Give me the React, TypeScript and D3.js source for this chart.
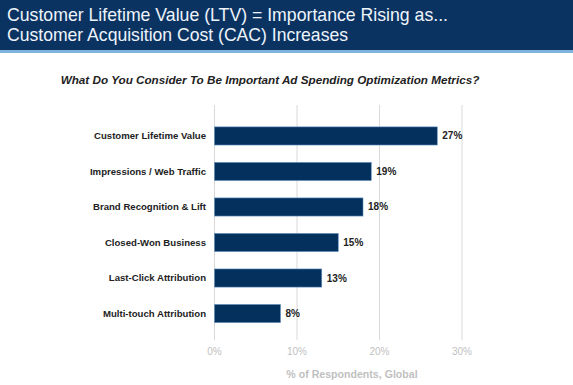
import React from 'react';
import * as d3 from 'd3';

const categories = [
  'Customer Lifetime Value',
  'Impressions / Web Traffic',
  'Brand Recognition & Lift',
  'Closed-Won Business',
  'Last-Click Attribution',
  'Multi-touch Attribution',
];
const values = [27, 19, 18, 15, 13, 8];
const ticks = [0, 10, 20, 30];

const width = 573;
const height = 385;
const font = 'Liberation Sans, Arial, sans-serif';

export default function App() {
  const x = d3.scaleLinear().domain([0, 30]).range([214.5, 462]);
  const y = d3.scaleBand().domain(categories).range([109.5, 340]).padding(0.49);

  return (
    <svg
      width={width}
      height={height}
      style={{ position: 'absolute', left: 0, top: 0, background: '#fff' }}
      fontFamily={font}
    >
      <rect x={0} y={0} width={width} height={50} fill="#0b3362" />
      <rect x={0} y={50} width={width} height={3} fill="#7fb2dc" />
      <text x={7} y={20.7} fontSize={19} fill="#eef4fb" textLength={441} lengthAdjust="spacingAndGlyphs">
        Customer Lifetime Value (LTV) = Importance Rising as...
      </text>
      <text x={7} y={41.3} fontSize={19} fill="#eef4fb" textLength={341} lengthAdjust="spacingAndGlyphs">
        Customer Acquisition Cost (CAC) Increases
      </text>

      <text
        x={270}
        y={84}
        fontSize={11.7}
        fontWeight="bold"
        fontStyle="italic"
        textAnchor="middle"
        fill="#222"
      >
        What Do You Consider To Be Important Ad Spending Optimization Metrics?
      </text>

      {/* grid */}
      {ticks.map((t) => (
        <g key={t}>
          <line x1={x(t)} x2={x(t)} y1={105} y2={340} stroke="#d9d9d9" strokeWidth={1} />
          <text x={x(t)} y={355} fontSize={10} fill="#bfbfbf" textAnchor="middle">
            {t}%
          </text>
        </g>
      ))}

      {categories.map((c, i) => {
        const yy = y(c)!;
        const cy = yy + y.bandwidth() / 2;
        return (
          <g key={c}>
            <rect
              x={x(0)}
              y={yy}
              width={x(values[i]) - x(0)}
              height={y.bandwidth()}
              fill="#04305e"
              stroke="#5f8fbd"
              strokeWidth={0.6}
            />
            <text
              x={206}
              y={cy}
              dy="0.35em"
              fontSize={9.6}
              fontWeight="bold"
              textAnchor="end"
              fill="#222"
            >
              {c}
            </text>
            <text x={x(values[i]) + 5} y={cy} dy="0.35em" fontSize={10} fontWeight="bold" fill="#222">
              {values[i]}%
            </text>
          </g>
        );
      })}

      <text x={352} y={378} fontSize={10.6} fontWeight="bold" fill="#bfbfbf" textAnchor="middle">
        % of Respondents, Global
      </text>
    </svg>
  );
}
